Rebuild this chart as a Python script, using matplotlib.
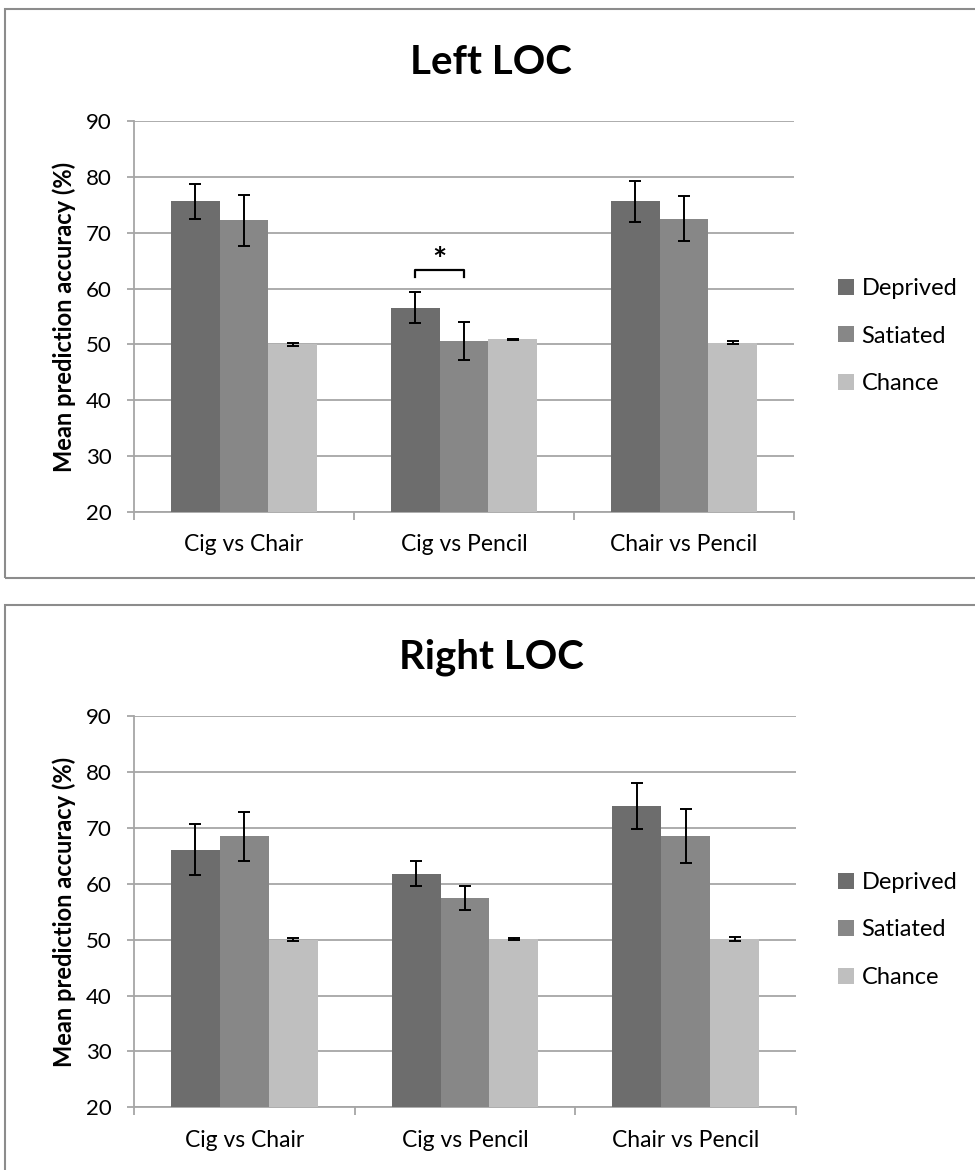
import matplotlib
matplotlib.use("Agg")
import matplotlib.pyplot as plt
import numpy as np
from matplotlib.patches import Rectangle

categories = ["Cig vs Chair", "Cig vs Pencil", "Chair vs Pencil"]
series = ["Deprived", "Satiated", "Chance"]

left_deprived = [75.6, 56.6, 75.6]
left_satiated = [72.2, 50.6, 72.5]
left_chance = [50.0, 50.9, 50.3]
left_deprived_err = [3.2, 2.7, 3.7]
left_satiated_err = [4.5, 3.35, 4.05]
left_chance_err = [0.3, 0.15, 0.25]

right_deprived = [66.1, 61.8, 73.9]
right_satiated = [68.5, 57.4, 68.5]
right_chance = [50.0, 50.1, 50.1]
right_deprived_err = [4.6, 2.2, 4.2]
right_satiated_err = [4.4, 2.1, 4.8]
right_chance_err = [0.25, 0.1, 0.3]

yticks = [20, 30, 40, 50, 60, 70, 80, 90]
colors = ["#6d6d6d", "#878787", "#bfbfbf"]
grid_c = "#a6a6a6"

FONT = ["Lato", "DejaVu Sans"]
plt.rcParams['font.family'] = FONT

W, H = 975, 1170
fig = plt.figure(figsize=(W / 100, H / 100), dpi=100)


def px_axes(left, top, right, bottom):
    return [left / W, 1 - bottom / H, (right - left) / W, (bottom - top) / H]


def panel(rect, title, title_y, dep, sat, cha, dep_e, sat_e, cha_e, leg_y):
    ax = fig.add_axes(rect)
    x = np.arange(len(categories))
    bw = 0.222
    vals = [dep, sat, cha]
    errs = [dep_e, sat_e, cha_e]
    for i in range(3):
        ax.bar(x + (i - 1) * bw, vals[i], width=bw, color=colors[i],
               label=series[i], zorder=3, bottom=0)
        ax.errorbar(x + (i - 1) * bw, vals[i], yerr=errs[i], fmt="none",
                    ecolor="black", elinewidth=1.4, capsize=4.3,
                    capthick=1.4, zorder=4)
    ax.set_ylim(20, 90)
    ax.set_xlim(-0.5, 2.5)
    ax.set_yticks(yticks)
    ax.set_yticklabels([str(t) for t in yticks], fontsize=16)
    ax.yaxis.grid(True, color=grid_c, linewidth=1.3, zorder=0)
    ax.set_axisbelow(True)
    for s in ["top", "right"]:
        ax.spines[s].set_visible(False)
    for s in ["left", "bottom"]:
        ax.spines[s].set_color(grid_c)
        ax.spines[s].set_linewidth(1.3)
    ax.tick_params(axis="y", length=5, width=1.3, color=grid_c, pad=11)
    ax.set_xticks(x)
    ax.set_xticklabels(categories, fontsize=16.5)
    ax.tick_params(axis="x", which="major", length=0, pad=16)
    ax.set_xticks([-0.5, 0.5, 1.5, 2.5], minor=True)
    ax.tick_params(axis="x", which="minor", length=6, width=1.3, color=grid_c,
                   direction="out")
    ax.set_ylabel("Mean prediction accuracy (%)", fontsize=17,
                  fontweight="bold", labelpad=7)
    ax.set_ylim(20, 90)
    fig.text(491 / W, 1 - title_y / H, title, ha="center", va="center",
             fontsize=29, fontweight="bold")
    fig.legend(*ax.get_legend_handles_labels(), loc="center left",
               bbox_to_anchor=(817 / W, 1 - leg_y / H), frameon=False,
               fontsize=17, handlelength=0.68, handleheight=0.68,
               handletextpad=0.3, labelspacing=1.12)
    return ax


ax1 = panel(px_axes(134, 121, 794, 512), "Left LOC", 62,
            left_deprived, left_satiated, left_chance,
            left_deprived_err, left_satiated_err, left_chance_err, 336)
ax2 = panel(px_axes(134, 716, 796, 1107.3), "Right LOC", 657,
            right_deprived, right_satiated, right_chance,
            right_deprived_err, right_satiated_err, right_chance_err, 930)

# significance bracket on Left LOC, Cig vs Pencil (Deprived vs Satiated)
bw = 0.222
xa, xb = 1 - bw, 1
ax1.plot([xa, xa, xb, xb], [62.1, 63.3, 63.3, 62.1], color="black",
         linewidth=1.6, zorder=5)
ax1.text((xa + xb) / 2, 63.1, "*", ha="center", va="baseline", fontsize=24,
         fontweight="bold", zorder=5)

# panel borders
border_c = "#8c8c8c"
fig.patches.append(Rectangle((5 / W, 1 - 578 / H), 975 / W, (578 - 9) / H,
                             transform=fig.transFigure, fill=False,
                             edgecolor=border_c, linewidth=1.5))
fig.patches.append(Rectangle((5 / W, 1 - 1175 / H), 975 / W, (1175 - 605) / H,
                             transform=fig.transFigure, fill=False,
                             edgecolor=border_c, linewidth=1.5))

fig.savefig("out.png", dpi=100)
